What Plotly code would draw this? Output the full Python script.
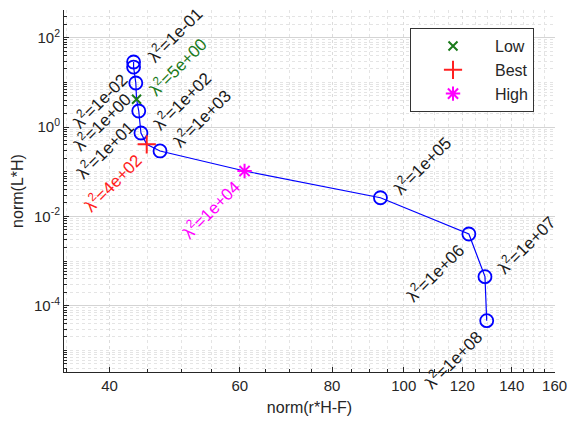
import plotly.graph_objects as go
import numpy as np

# ---- data ----
lam = [1e-2, 1e-1, 1e0, 1e1, 1e2, 1e3, 1e5, 1e6, 1e7, 1e8]
resid = [43.1, 43.1, 43.4, 43.8, 44.1, 46.8, 93.0, 122.5, 128.8, 129.5]
solnorm = [28.6, 22.1, 9.7, 2.29, 0.737, 0.292, 0.0262, 0.00404, 4.48e-4, 4.64e-5]
label_side = ["L", "R", "L", "L", "R", "R", "R", "L", "R", "L"]

low_lam, low_x, low_y = 5.0, 43.5, 4.19
best_lam, best_x, best_y = 400.0, 44.9, 0.411
high_lam, high_x, high_y = 1e4, 60.9, 0.104

x_ticks = [40, 60, 80, 100, 120, 140, 160]
y_ticks = [1e-4, 1e-2, 1e0, 1e2]
y_ticktext = ["10<sup>-4</sup>", "10<sup>-2</sup>", "10<sup>0</sup>", "10<sup>2</sup>"]

FONT = "Liberation Sans, Arial, sans-serif"
TXT = "#262626"

# full curve through all points ordered by lambda
all_lam = lam + [low_lam, best_lam, high_lam]
all_x = resid + [low_x, best_x, high_x]
all_y = solnorm + [low_y, best_y, high_y]
order = np.argsort(all_lam)
curve_x = [all_x[i] for i in order]
curve_y = [all_y[i] for i in order]

fig = go.Figure()
fig.add_trace(go.Scatter(x=curve_x, y=curve_y, mode="lines",
                         line=dict(color="#0000ff", width=1.2),
                         showlegend=False, hoverinfo="skip"))
fig.add_trace(go.Scatter(x=resid, y=solnorm, mode="markers",
                         marker=dict(symbol="circle-open", size=13,
                                     color="#0000ff", line=dict(width=1.8, color="#0000ff")),
                         showlegend=False))
fig.add_trace(go.Scatter(x=[low_x], y=[low_y], mode="markers", name="Low",
                         marker=dict(symbol="x-thin-open", size=9,
                                     line=dict(width=2, color="#1a7a1a"), color="#1a7a1a")))
fig.add_trace(go.Scatter(x=[best_x], y=[best_y], mode="markers", name="Best",
                         marker=dict(symbol="cross-thin-open", size=13,
                                     line=dict(width=2, color="#ff2020"), color="#ff2020")))
fig.add_trace(go.Scatter(x=[high_x], y=[high_y], mode="markers", name="High",
                         marker=dict(symbol="asterisk-open", size=12,
                                     line=dict(width=2, color="#ff00ff"), color="#ff00ff")))

def fmt(v):
    s = "%.0e" % v
    mant, ex = s.split("e")
    sign = ex[0]
    return "%se%s%02d" % (mant, sign, abs(int(ex)))

annots = []
def add_label(x, y, l, color, side):
    if side == "R":
        xs, ys = 41, 33
    else:
        xs, ys = -34, -38
    annots.append(dict(x=np.log10(x), y=np.log10(y), xref="x", yref="y",
                       text="λ<sup>2</sup>=" + fmt(l), showarrow=False,
                       textangle=-45, xanchor="center", yanchor="middle",
                       xshift=xs, yshift=ys,
                       font=dict(family=FONT, size=17, color=color)))

for xv, yv, lv, sd in zip(resid, solnorm, lam, label_side):
    add_label(xv, yv, lv, "#1a1a1a", sd)
add_label(low_x, low_y, low_lam, "#1a7a1a", "R")
add_label(best_x, best_y, best_lam, "#ff2020", "L")
add_label(high_x, high_y, high_lam, "#ff00ff", "L")

x_minor = list(range(35, 161, 5))
y_minor = [k * 10.0 ** e for e in range(-6, 3) for k in range(1, 10)]

fig.update_layout(
    width=568, height=426,
    margin=dict(l=64, r=13, t=10, b=54),
    paper_bgcolor="white", plot_bgcolor="white",
    font=dict(family=FONT, size=15, color=TXT),
    annotations=annots,
    legend=dict(x=0.7047, y=0.95, xanchor="left", yanchor="top",
                bgcolor="white", bordercolor="#333333", borderwidth=1,
                font=dict(family=FONT, size=16, color=TXT),
                itemwidth=74),
    xaxis=dict(type="log", range=[np.log10(34.7), np.log10(160.2)],
               automargin=False,
               tickvals=x_ticks, ticktext=[str(v) for v in x_ticks],
               ticks="inside", ticklen=5, tickcolor=TXT,
               showline=True, linecolor=TXT, linewidth=1,
               showgrid=True, gridcolor="#dcdcdc", griddash="dot", gridwidth=1,
               minor=dict(tickvals=x_minor, ticks="inside", ticklen=3, tickcolor=TXT,
                          showgrid=True, gridcolor="#e4e4e4", griddash="dot"),
               zeroline=False,
               title=dict(text="norm(r*H-F)", font=dict(size=16, color=TXT), standoff=8),
               tickfont=dict(size=15, color=TXT)),
    yaxis=dict(type="log", range=[-5.483, 2.621],
               automargin=False,
               tickvals=y_ticks, ticktext=y_ticktext,
               ticks="inside", ticklen=5, tickcolor=TXT,
               showline=True, linecolor=TXT, linewidth=1,
               showgrid=True, gridcolor="#d4d4d4", gridwidth=1,
               minor=dict(tickvals=y_minor, ticks="inside", ticklen=3, tickcolor=TXT,
                          showgrid=True, gridcolor="#e4e4e4", griddash="dot"),
               zeroline=False,
               title=dict(text="norm(L*H)", font=dict(size=16, color=TXT), standoff=6),
               tickfont=dict(size=15, color=TXT)),
)

fig.write_html("out.html")
